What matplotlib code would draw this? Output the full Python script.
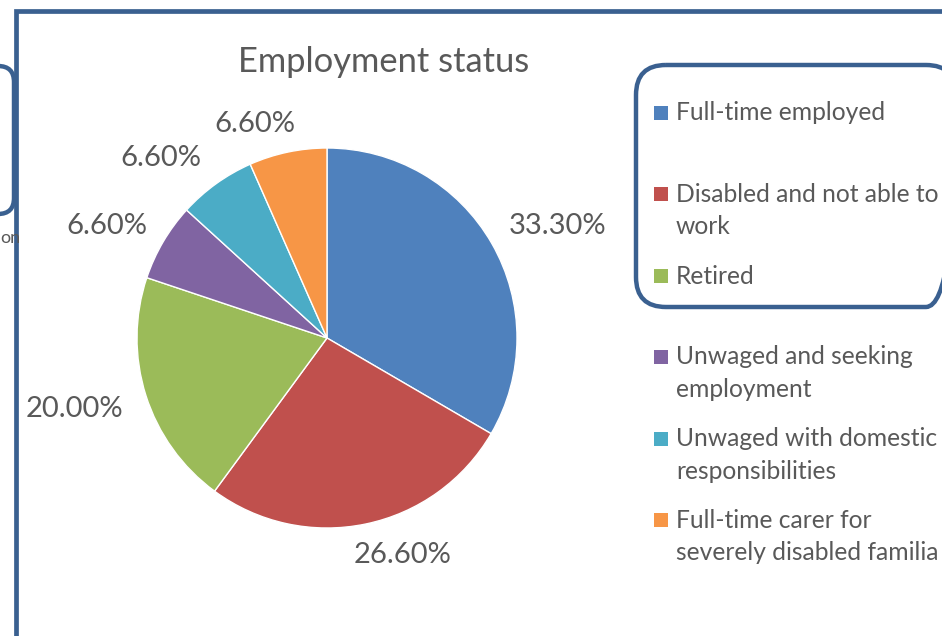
import numpy as np
import matplotlib
matplotlib.use("Agg")
import matplotlib.pyplot as plt
from matplotlib.patches import FancyBboxPatch, Rectangle

plt.rcParams['font.family'] = ['Lato', 'DejaVu Sans']

title = "Employment status"
categories = ["Full-time employed", "Disabled and not able to work", "Retired",
              "Unwaged and seeking employment", "Unwaged with domestic responsibilities",
              "Full-time carer for severely disabled familia"]
legend_lines = [["Full-time employed"], ["Disabled and not able to", "work"], ["Retired"],
                ["Unwaged and seeking", "employment"], ["Unwaged with domestic", "responsibilities"],
                ["Full-time carer for", "severely disabled familia"]]
values = [33.3, 26.6, 20.0, 6.6, 6.6, 6.6]
value_labels = ["33.30%", "26.60%", "20.00%", "6.60%", "6.60%", "6.60%"]
colors = ["#4F81BD", "#C0504D", "#9BBB59", "#8064A2", "#4BACC6", "#F79646"]

TXT = "#595959"
FRAME = "#3A6090"
W, H = 942, 636

fig = plt.figure(figsize=(W / 100, H / 100), dpi=100)
ov = fig.add_axes([0, 0, 1, 1])
ov.set_xlim(0, W)
ov.set_ylim(H, 0)
ov.axis('off')

# outer frame (left + top)
ov.plot([16, 16, W + 10], [H + 10, 11, 11], color=FRAME, lw=3.4, solid_capstyle='butt',
        solid_joinstyle='miter')
# partial rounded box at left
ov.add_patch(FancyBboxPatch((-40, 66), 54, 148, boxstyle="round,pad=0,rounding_size=16",
                            fill=False, ec=FRAME, lw=3.2))
ov.text(0, 238, "on", fontsize=13, color=TXT, ha='left', va='center')

# legend rounded box
ov.add_patch(FancyBboxPatch((636, 65), 320, 242, boxstyle="round,pad=0,rounding_size=30",
                            fill=False, ec=FRAME, lw=3.2))

# legend entries
item_y = [113, 194, 276, 357, 439, 520]
line_gap = 32.5
for lines, c, y in zip(legend_lines, colors, item_y):
    ov.add_patch(Rectangle((654, y - 7), 14, 14, color=c, lw=0))
    for k, ln in enumerate(lines):
        ov.text(676, y + k * line_gap, ln, fontsize=17.7, color=TXT, ha='left', va='center')

# title
ov.text(384, 62, title, fontsize=24.8, color=TXT, ha='center', va='center')

# pie
cx, cy, R = 327, 338, 190
half = 260
ax = fig.add_axes([(cx - half) / W, (H - cy - half) / H, 2 * half / W, 2 * half / H])
lim = half / R
ax.axis('off')
wedges, _ = ax.pie(values, colors=colors, startangle=90, counterclock=False, radius=1,
                   wedgeprops=dict(edgecolor='white', linewidth=1.0))
ax.set_xlim(-lim, lim)
ax.set_ylim(-lim, lim)

label_dist = [1.35, 1.21, 1.38, 1.30, 1.29, 1.19]
label_shift = [-4, 7.5, -2, 3.5, 7, 6.7]
for w, lab, d, s in zip(wedges, value_labels, label_dist, label_shift):
    ang = np.deg2rad((w.theta1 + w.theta2) / 2 + s)
    ax.text(d * np.cos(ang), d * np.sin(ang), lab, fontsize=21, color=TXT,
            ha='center', va='center')

fig.savefig("out.png", dpi=100)
